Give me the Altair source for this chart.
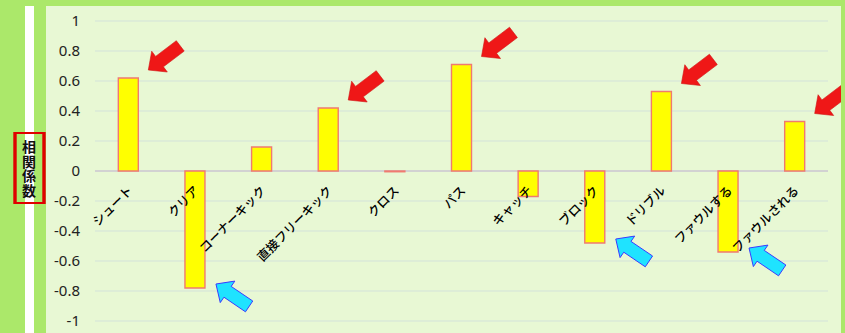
import math
import altair as alt
import pandas as pd

categories = ["シュート", "クリア", "コーナーキック", "直接フリーキック", "クロス", "パス",
              "キャッチ", "ブロック", "ドリブル", "ファウルする", "ファウルされる"]
values = [0.62, -0.78, 0.16, 0.42, -0.005, 0.71, -0.17, -0.48, 0.53, -0.54, 0.33]
red_arrows = ["シュート", "直接フリーキック", "パス", "ドリブル", "ファウルされる"]
cyan_arrows = ["クリア", "ブロック", "ファウルする"]
y_ticks = [-1, -0.8, -0.6, -0.4, -0.2, 0, 0.2, 0.4, 0.6, 0.8, 1]
y_tick_labels = ["-1", "-0.8", "-0.6", "-0.4", "-0.2", "0", "0.2", "0.4", "0.6", "0.8", "1"]
y_title = ["相", "関", "係", "数"]

df = pd.DataFrame({"cat": categories, "value": values})
df_red = df[df["cat"].isin(red_arrows)]
df_cyan = df[df["cat"].isin(cyan_arrows)]
df_ticks = pd.DataFrame({"t": y_ticks, "lab": y_tick_labels})
df_grid = df_ticks[df_ticks["t"] != 0]

W, H = 733, 300
PAD = {"left": 95, "top": 21, "right": 17, "bottom": 12}

GREEN = "#abe86a"
PATTERN = "#e8f8d4"


def arrow_path(tail_deg, tip_dx, tip_dy):
    pts = [(0, 0), (14, -13), (14, -6.5), (40, -6.5), (40, 6.5), (14, 6.5), (14, 13)]
    a = math.radians(tail_deg)
    out = []
    for x, y in pts:
        rx = x * math.cos(a) - y * math.sin(a) + tip_dx
        ry = x * math.sin(a) + y * math.cos(a) + tip_dy
        out.append(f"{rx:.1f} {ry:.1f}")
    return "M " + " L ".join(out) + " Z"


yscale = alt.Scale(domain=[-1, 1], nice=False, zero=False)
xs = alt.X("cat:N", sort=categories, axis=None,
           scale=alt.Scale(paddingInner=0, paddingOuter=0))
ys = alt.Y("value:Q", scale=yscale, axis=None)
yt = alt.Y("t:Q", scale=yscale, axis=None)

base = alt.Chart(df)

# decoration: green frame strips
left_green = base.mark_rect(color=GREEN).encode(
    x=alt.value(-95), x2=alt.value(-49), y=alt.value(-21), y2=alt.value(312))
white_strip = base.mark_rect(color="#ffffff").encode(
    x=alt.value(-70), x2=alt.value(-61), y=alt.value(-21), y2=alt.value(312))
top_green = base.mark_rect(color=GREEN).encode(
    x=alt.value(-95), x2=alt.value(750), y=alt.value(-21), y2=alt.value(-15))
right_green = base.mark_rect(color=GREEN).encode(
    x=alt.value(746), x2=alt.value(750), y=alt.value(-21), y2=alt.value(312))

title_box = base.mark_rect(fill="transparent", stroke="#e00000", strokeWidth=2.2).encode(
    x=alt.value(-80), x2=alt.value(-51), y=alt.value(112), y2=alt.value(182))
title_text = alt.Chart(pd.DataFrame({"a": [0]})).mark_text(
    font="Noto Sans CJK JP", fontSize=14, fontWeight="bold", lineHeight=14.6,
    baseline="top", align="center", color="#111111"
).encode(x=alt.value(-66), y=alt.value(120), text=alt.value(y_title))

ylabels = alt.Chart(df_ticks).mark_text(
    font="Noto Sans", fontSize=15, align="right", baseline="middle", color="#222222"
).encode(x=alt.value(-15), y=yt, text="lab:N")

grid = alt.Chart(df_grid).mark_rule(color="#d3e2da", strokeWidth=1).encode(
    y=yt, x=alt.value(0), x2=alt.value(W))
zero = base.mark_rule(color="#d2d2d2", strokeWidth=1.6).encode(
    y=alt.datum(0, scale=yscale, axis=None), x=alt.value(0), x2=alt.value(W))

bars = base.mark_bar(width=20, color="#ffff00", stroke="#f07a70", strokeWidth=1.4).encode(
    x=xs, y=ys, y2=alt.datum(0))

red = alt.Chart(df_red).mark_point(
    shape=arrow_path(-37, 20, -8), size=4, filled=True, fill="#ef1717",
    stroke="#d01010", strokeWidth=0.6, opacity=1).encode(x=xs, y=ys)
cyan = alt.Chart(df_cyan).mark_point(
    shape=arrow_path(34, 21, -4), size=4, filled=True, fill="#1fe3ff",
    stroke="#3a3aff", strokeWidth=1, opacity=1).encode(x=xs, y=ys)

labels = base.mark_text(
    font="Noto Sans CJK JP", fontSize=12.5, fontWeight=500, angle=315, align="right",
    baseline="top", dx=-11, dy=8, color="#000000").encode(
    x=xs, y=alt.datum(0, scale=yscale, axis=None), text="cat:N")

chart = alt.layer(
    left_green, white_strip, top_green, title_box, title_text, ylabels,
    grid, zero, bars, red, cyan, labels, right_green
).properties(
    width=W, height=H, padding=PAD,
    autosize=alt.AutoSizeParams(type="none"),
    background=PATTERN
).configure_view(stroke=None)

chart.save("out.html", embed_options={"renderer": "svg", "actions": False})
